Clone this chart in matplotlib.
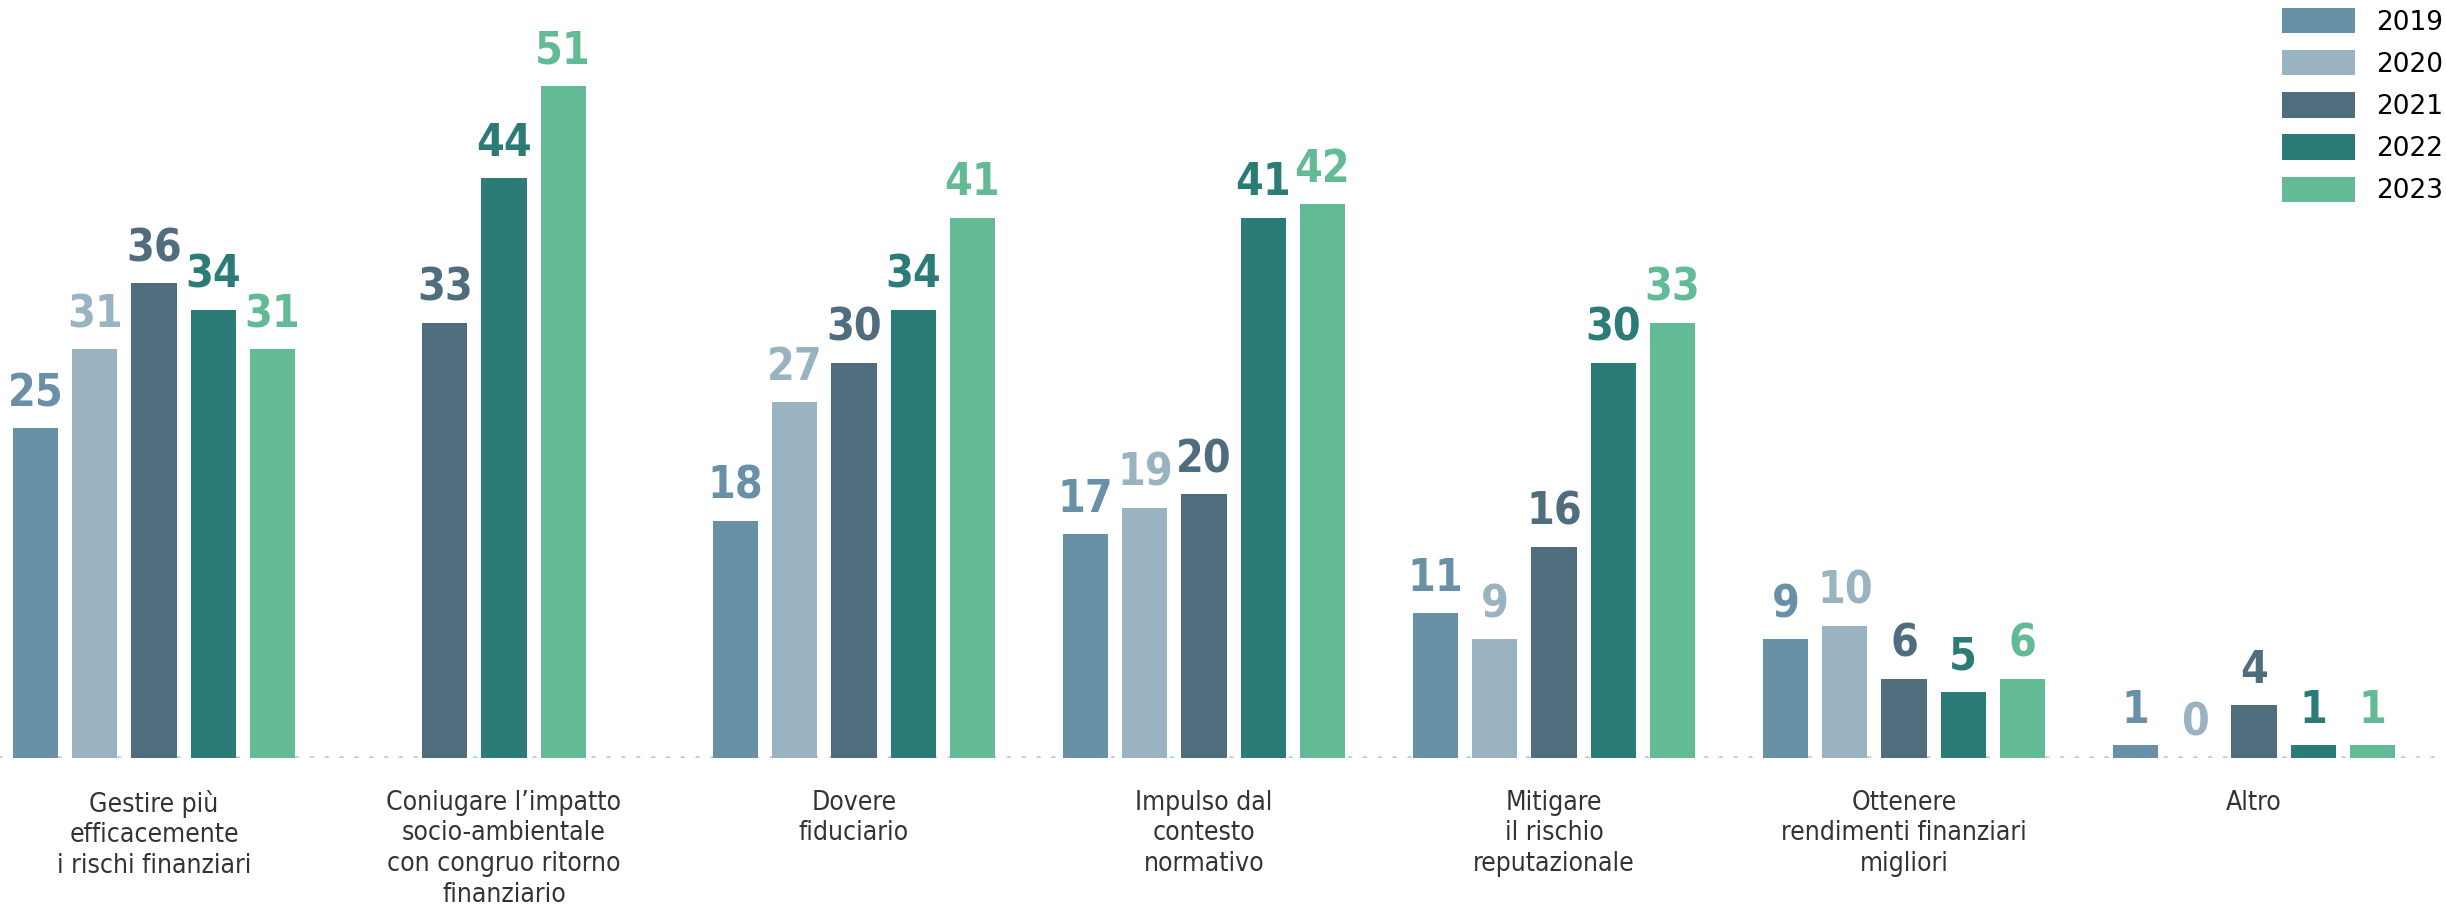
import numpy as np
import matplotlib
matplotlib.use("Agg")
import matplotlib.pyplot as plt
from matplotlib.patches import Patch

# data
categories = [
    "Gestire più\nefficacemente\ni rischi finanziari",
    "Coniugare l’impatto\nsocio-ambientale\ncon congruo ritorno\nfinanziario",
    "Dovere\nfiduciario",
    "Impulso dal\ncontesto\nnormativo",
    "Mitigare\nil rischio\nreputazionale",
    "Ottenere\nrendimenti finanziari\nmigliori",
    "Altro",
]
years = ["2019", "2020", "2021", "2022", "2023"]
v2019 = [25, None, 18, 17, 11, 9, 1]
v2020 = [31, None, 27, 19, 9, 10, 0]
v2021 = [36, 33, 30, 20, 16, 6, 4]
v2022 = [34, 44, 34, 41, 30, 5, 1]
v2023 = [31, 51, 41, 42, 33, 6, 1]
series = [v2019, v2020, v2021, v2022, v2023]
colors = ["#6890A6", "#9AB3C1", "#4F6D7C", "#2B7B76", "#62BB95"]

W, H = 2446, 915
fig = plt.figure(figsize=(W / 100, H / 100), dpi=100)
base_px = 758
ax = fig.add_axes([0, (H - base_px) / H, 1, base_px / H])

slot = 0.169
width = 0.129

for g in range(len(categories)):
    # bars that exist are centred on the group
    present = [k for k in range(len(years)) if series[k][g] is not None]
    n = len(present)
    for j, k in enumerate(present):
        x = g + (j - (n - 1) / 2) * slot
        v = series[k][g]
        ax.bar(x, v, width=width, color=colors[k], zorder=3)
        ax.text(x, v + 1.0, str(v), ha="center", va="bottom",
                fontsize=32, fontweight="bold", fontstretch="condensed",
                color=colors[k], family="DejaVu Sans", zorder=4)

# dotted baseline
ax.axhline(0, color="#C3D0DA", linewidth=3.8, linestyle=(0, (0.01, 2.8)),
           dash_capstyle="round", zorder=1)

for g, lab in enumerate(categories):
    ax.text(g, -2.4, lab, ha="center", va="top", fontsize=19,
            fontstretch="condensed", color="#333333", family="DejaVu Sans",
            linespacing=1.24, clip_on=False)

ax.set_xlim(-154 / 350, -154 / 350 + W / 350)
ax.set_ylim(0, 57.5)
ax.axis("off")

handles = [Patch(facecolor=c, edgecolor="none") for c in colors]
fig.legend(handles, years, loc="upper left",
           bbox_to_anchor=(2282 / W, 1 - 8 / H), frameon=False,
           handlelength=2.77, handleheight=1.1,
           handletextpad=0.8, labelspacing=0.55, borderpad=0,
           borderaxespad=0, prop={"family": "DejaVu Sans", "size": 19})

fig.savefig("out.png", dpi=100)
